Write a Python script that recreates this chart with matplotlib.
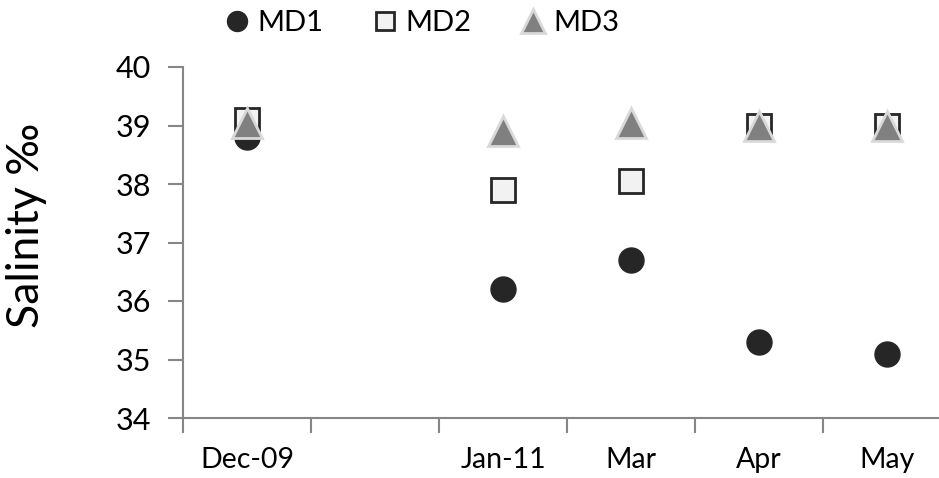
"""Salinity by sampling month at three sites (MD1-MD3)."""

import matplotlib.pyplot as plt
import numpy as np

plt.rcParams["font.family"] = ["Lato", "DejaVu Sans"]

months = ["Dec-09", "", "Jan-11", "Mar", "Apr", "May"]
md1 = [38.8, np.nan, 36.2, 36.7, 35.3, 35.1]
md2 = [39.1, np.nan, 37.9, 38.05, 39.0, 39.0]
md3 = [39.05, np.nan, 38.9, 39.05, 39.0, 39.0]

AXIS_GREY = "#868686"

fig = plt.figure(figsize=(9.39, 4.78), dpi=100)
ax = fig.add_axes([183 / 939, 1 - 418 / 478, 768 / 939, 351 / 478])

x = np.arange(len(months))
ax.plot(x, md1, linestyle="none", marker="o", markersize=18,
        markerfacecolor="#262626", markeredgecolor="#262626", label="MD1")
ax.plot(x, md2, linestyle="none", marker="s", markersize=17,
        markerfacecolor="#f2f2f2", markeredgecolor="#262626", markeredgewidth=2,
        label="MD2")
ax.plot(x, md3, linestyle="none", marker="^", markersize=22,
        markerfacecolor="#808080", markeredgecolor="#d9d9d9", markeredgewidth=2,
        label="MD3")

ax.set_xlim(-0.5, len(months) - 0.5)
ax.set_ylim(34, 40)
ax.set_yticks(np.arange(34, 41, 1))
ax.set_xticks(x)
ax.set_xticklabels(months)
ax.set_xticks(np.arange(-0.5, len(months), 1), minor=True)
ax.tick_params(axis="x", which="major", length=0, pad=21, labelsize=20.5)
ax.tick_params(axis="x", which="minor", length=11, width=1.5, color=AXIS_GREY)
ax.tick_params(axis="y", length=11, width=1.5, color=AXIS_GREY, pad=12, labelsize=22)

for side in ("top", "right"):
    ax.spines[side].set_visible(False)
for side in ("left", "bottom"):
    ax.spines[side].set_color(AXIS_GREY)
    ax.spines[side].set_linewidth(1.5)

ax.set_ylabel("Salinity ‰", fontsize=32)
ax.yaxis.set_label_coords(-0.177, 0.55)

fig.legend(loc="center", bbox_to_anchor=(0.449, 0.952), ncol=3, frameon=False,
           fontsize=21, markerscale=0.8, handlelength=0.9, handletextpad=0.25,
           columnspacing=1.65)

fig.savefig("out.png", dpi=100)
